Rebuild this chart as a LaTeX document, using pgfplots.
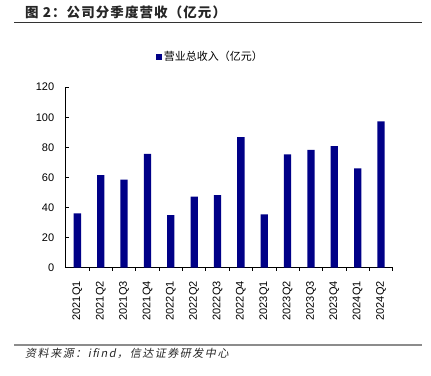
\documentclass[border=0pt]{standalone}
\usepackage{pgfplots}
\pgfplotsset{compat=1.18}
\usepackage{fontspec}
\setmainfont{Liberation Sans}
\newfontfamily\cjk{Noto Sans CJK SC}
\newfontfamily\cjkt[LetterSpace=8]{Noto Sans CJK SC}
\newfontfamily\cjkit[FakeSlant=0.2,LetterSpace=14]{Noto Sans CJK SC}
\definecolor{barblue}{RGB}{0,0,135}
\begin{document}
\begin{tikzpicture}[x=1pt,y=1pt]
\useasboundingbox (0,0) rectangle (431,375);
\node[anchor=base west, inner sep=0, font=\cjkt\bfseries\fontsize{13.5}{15}\selectfont, text=black!85] at (25,357) {图 2：公司分季度营收（亿元）};
\draw[line width=1.2pt, black!80] (14,352.5) -- (422,352.5);
\draw[line width=1.5pt, black!45] (14,30) -- (422,30);
\node[anchor=base west, inner sep=0, font=\cjkit\fontsize{11}{13}\selectfont, text=black!85] at (25,18) {资料来源：ifind，信达证券研发中心};
\begin{axis}[
  at={(65.7pt,107.3pt)}, anchor=south west,
  scale only axis, width=327pt, height=180.5pt,
  ymin=0, ymax=120, ytick={0,20,...,120},
  xmin=-0.5, xmax=13.5,
  axis x line*=bottom, axis y line*=left,
  axis line style={line width=0.9pt, black},
  tick style={line width=0.8pt, black},
  tick align=inside,
  major tick length=3pt, minor tick length=3pt,
  xtick={0,...,13},
  xticklabels={2021Q1,2021Q2,2021Q3,2021Q4,2022Q1,2022Q2,2022Q3,2022Q4,2023Q1,2023Q2,2023Q3,2023Q4,2024Q1,2024Q2},
  major x tick style={draw=none},
  minor xtick={0.5,1.5,...,13.5},
  /pgf/number format/assume math mode=true,
  tick label style={font=\fontsize{11}{13}\selectfont},
  xticklabel style={rotate=90, anchor=east},
  xticklabel shift=7pt,
  yticklabel shift=8pt,
  ybar, bar width=7.3pt,
  legend style={at={(0.275,1.169)}, anchor=west, draw=none, fill=none, inner sep=0pt,
    font=\cjk\fontsize{11}{13}\selectfont},
  legend image code/.code={\fill[barblue] (0pt,-3pt) rectangle (6pt,3pt);},
]
\addplot[fill=barblue, draw=none] coordinates {
(0,36.1) (1,61.6) (2,58.5) (3,75.7) (4,35.0) (5,47.2) (6,48.3)
(7,86.8) (8,35.5) (9,75.3) (10,78.4) (11,80.9) (12,66.0) (13,97.3)};
\addlegendentry{营业总收入（亿元）}
\end{axis}
\end{tikzpicture}
\end{document}
